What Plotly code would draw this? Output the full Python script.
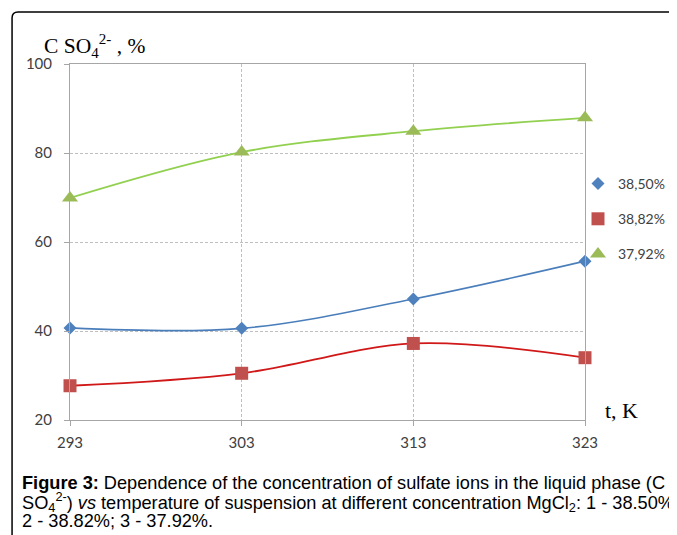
import plotly.graph_objects as go

temps = [293, 303, 313, 323]
series_names = ["38,50%", "38,82%", "37,92%"]
blue_vals = [40.7, 40.6, 47.2, 55.7]
red_vals = [27.7, 30.5, 37.2, 34.0]
green_vals = [69.9, 80.2, 84.9, 87.9]
y_ticks = [20, 40, 60, 80, 100]

# the page body has an 8px margin, so the figure is 8px smaller than the window
OFF = 8
W, H = 677 - OFF, 535 - OFF
L, T = 70 - OFF, 64 - OFF
PR, PB = 585.5 - OFF, 420 - OFF
R, B = W - PR, H - PB
pw, ph = PR - L, PB - T

def px_x(x):  # screen px -> paper
    return (x - OFF - L) / pw

def px_y(y):
    return (PB - (y - OFF)) / ph

fig = go.Figure()

styles = [
    (blue_vals, "#4A7EBB", "#4F81BD", "diamond", 10, 1.6),
    (red_vals, "#D01818", "#C0504D", "square", 13, 1.8),
    (green_vals, "#92D050", "#9BBB59", "triangle-up", 14, 1.8),
]

for vals, lc, mc, sym, sz, lw in styles:
    fig.add_trace(go.Scatter(x=temps, y=vals, mode="lines",
                             line=dict(color=lc, width=lw, shape="spline", smoothing=1.0),
                             showlegend=False, hoverinfo="skip", cliponaxis=False))

for i, (name, (vals, lc, mc, sym, sz, lw)) in enumerate(zip(series_names, styles)):
    fig.add_trace(go.Scatter(x=temps, y=vals, mode="markers", name=name,
                             legendgroup=f"g{i}",
                             marker=dict(color=mc, symbol=sym, size=sz, line=dict(width=0)),
                             cliponaxis=False))

axis_common = dict(showline=True, mirror=True, linecolor="#A6A6A6", linewidth=1,
                   ticks="outside", ticklen=5, tickcolor="#A6A6A6",
                   showgrid=True, gridcolor="#BFBFBF", griddash="3px,2px", gridwidth=1,
                   zeroline=False,
                   tickfont=dict(family="Lato, Open Sans, sans-serif", size=15, color="#404040"))

fig.update_xaxes(range=[293, 323], tickvals=temps, ticktext=[str(t) for t in temps],
                 ticklabelstandoff=4, **axis_common)
fig.update_yaxes(range=[20, 100], tickvals=y_ticks, ticklabelstandoff=9, **axis_common)

cap_font = dict(family="Liberation Sans, Arial, sans-serif", size=18.2, color="#000")
caption_lines = [
    "<b>Figure 3:</b> Dependence of the concentration of sulfate ions in the liquid phase (C",
    "SO<sub>4</sub><sup>2-</sup>) <i>vs</i> temperature of suspension at different concentration MgCl<sub>2</sub>: 1 - 38.50%;",
    "2 - 38.82%; 3 - 37.92%.",
]
caption_y = [482.5, 501.5, 521]

annotations = [
    dict(xref="paper", yref="paper", x=px_x(42), y=px_y(46), xanchor="left", yanchor="middle",
         text="C SO<sub>4</sub><sup>2-</sup> , %", showarrow=False,
         font=dict(family="Liberation Serif, serif", size=21.5, color="#000")),
    dict(xref="paper", yref="paper", x=px_x(604), y=px_y(410), xanchor="left", yanchor="middle",
         text="t, K", showarrow=False,
         font=dict(family="Liberation Serif, serif", size=22, color="#000")),
]
for line, yy in zip(caption_lines, caption_y):
    annotations.append(dict(xref="paper", yref="paper", x=px_x(19.5), y=px_y(yy),
                            xanchor="left", yanchor="middle", align="left", showarrow=False,
                            text=line, font=cap_font))

r = 6
xl, yt = 12, 12
border_path = (f"M {px_x(700)},{px_y(yt)} L {px_x(xl + r)},{px_y(yt)} "
               f"Q {px_x(xl)},{px_y(yt)} {px_x(xl)},{px_y(yt + r)} L {px_x(xl)},{px_y(560)}")

fig.update_layout(
    width=W, height=H,
    margin=dict(l=L, r=R, t=T, b=B, autoexpand=False),
    paper_bgcolor="white", plot_bgcolor="white",
    annotations=annotations,
    shapes=[dict(type="path", xref="paper", yref="paper", path=border_path,
                 line=dict(color="#000", width=1.5))],
    legend=dict(xref="container", yref="container",
                x=(578 - OFF) / W, y=1 - (168 - OFF) / H, xanchor="left", yanchor="top",
                traceorder="grouped", tracegroupgap=14,
                font=dict(family="Lato, Open Sans, sans-serif", size=14, color="#404040"),
                bgcolor="rgba(0,0,0,0)", itemwidth=30, borderwidth=0),
    showlegend=True,
)

fig.write_html("out.html")
